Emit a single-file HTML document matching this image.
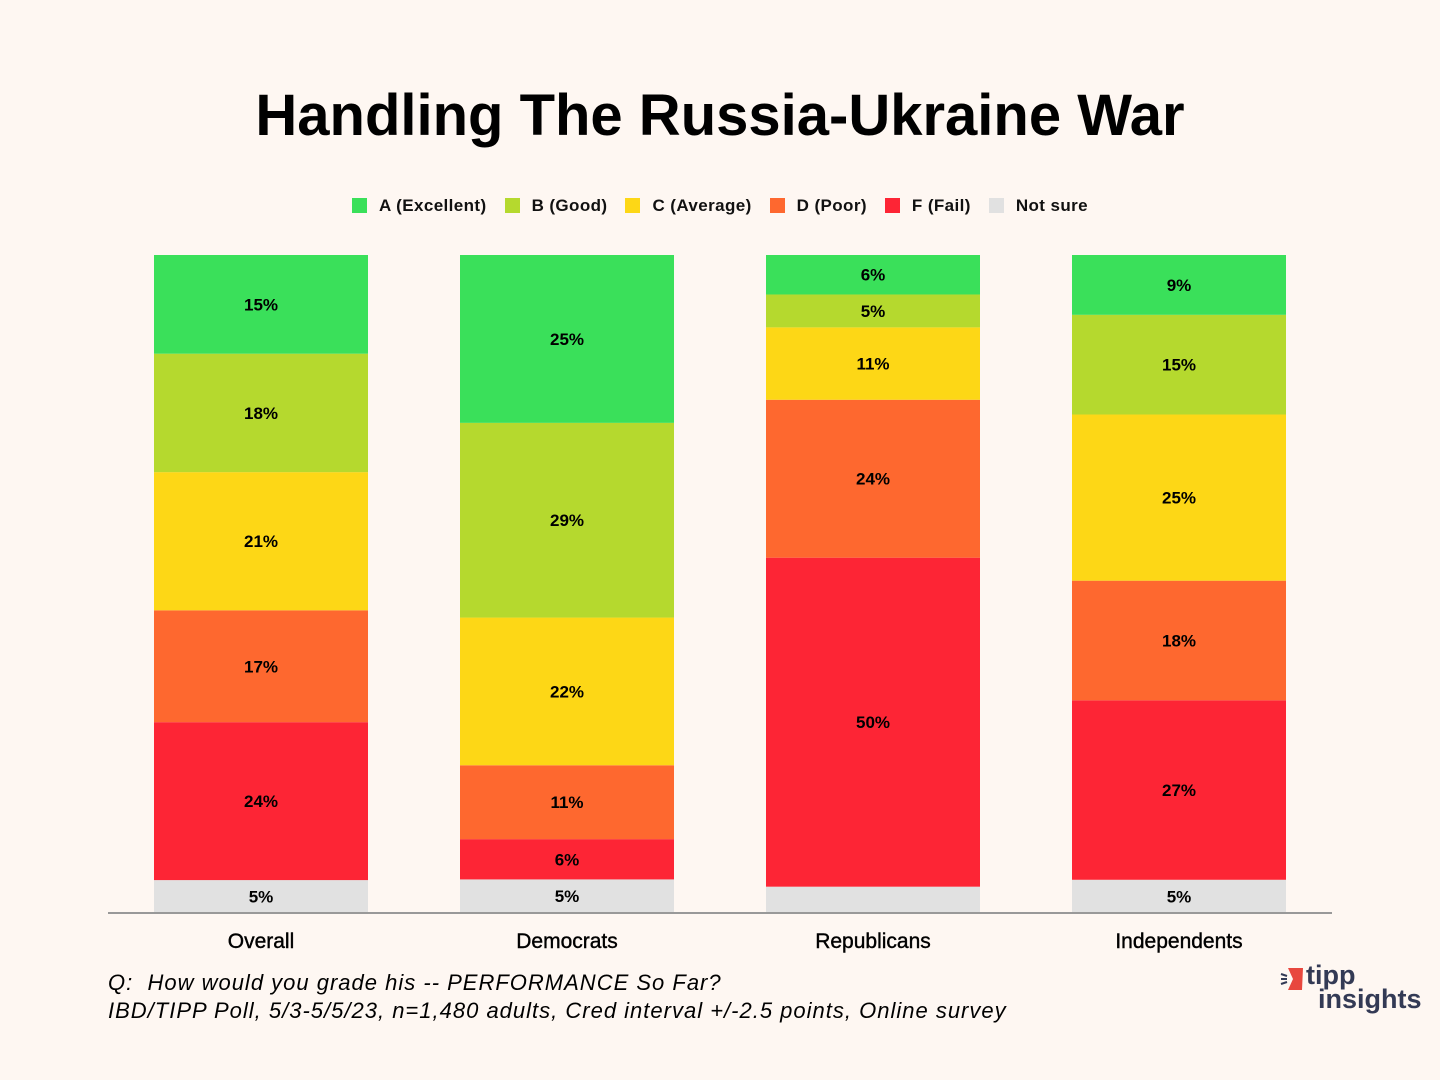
<!DOCTYPE html>
<html><head><meta charset="utf-8"><style>
body{margin:0;background:#fef7f2;font-family:"Liberation Sans",sans-serif;}
#wrap{position:relative;width:1440px;height:1080px;overflow:hidden;background:#fef7f2;}
.t{position:absolute;white-space:nowrap;}
</style></head><body>
<div id="wrap">
<div class="t" style="left:0;width:1440px;text-align:center;top:82px;font-size:58px;font-weight:bold;color:#000;">Handling The Russia-Ukraine War</div>
<div id="legend" class="t" style="left:0;width:1440px;top:196px;text-align:center;font-size:17px;font-weight:bold;color:#111;letter-spacing:0.4px;"></div>
<svg id="chart" width="1440" height="1080" style="position:absolute;left:0;top:0"></svg>
<div class="t" style="left:108px;top:970px;font-size:22px;font-style:italic;color:#000;letter-spacing:1px;">Q:&nbsp; How would you grade his -- PERFORMANCE So Far?</div>
<div class="t" style="left:108px;top:998px;font-size:22px;font-style:italic;color:#000;letter-spacing:1px;">IBD/TIPP Poll, 5/3-5/5/23, n=1,480 adults, Cred interval +/-2.5 points, Online survey</div>
<div style="position:absolute;left:1280px;top:964px;width:145px;height:52px;">
<svg width="26" height="30" style="position:absolute;left:0;top:2px"><polygon points="8,2 23,2 22,24 8,24 13,13" fill="#e8473e"/><line x1="1" y1="8" x2="7" y2="10" stroke="#333a55" stroke-width="2"/><line x1="1" y1="13" x2="7" y2="13" stroke="#333a55" stroke-width="2"/><line x1="1" y1="18" x2="7" y2="16" stroke="#333a55" stroke-width="2"/></svg>
<div class="t" style="left:26px;top:-4px;font-size:27px;font-weight:bold;color:#333a55;line-height:30px;">tipp</div>
<div class="t" style="left:38px;top:20px;font-size:27px;font-weight:bold;color:#333a55;line-height:30px;">insights</div>
</div>
</div>
<script>
const categories=["Overall","Democrats","Republicans","Independents"];
const seriesNames=["A (Excellent)","B (Good)","C (Average)","D (Poor)","F (Fail)","Not sure"];
const colors=["#3ae05a","#b5d92e","#fdd716","#fe682f","#fd2535","#e1e1e1"];
const valA=[15,25,6,9];
const valB=[18,29,5,15];
const valC=[21,22,11,25];
const valD=[17,11,24,18];
const valF=[24,6,50,27];
const valNS=[5,5,4,5];
const series=[valA,valB,valC,valD,valF,valNS];
const NS="http://www.w3.org/2000/svg";
const svg=document.getElementById('chart');
const baseY=913, topY=255, x0=154, step=306, bw=214;
function yScale(frac){return baseY-frac*(baseY-topY);}
const leg=document.getElementById('legend');
seriesNames.forEach((n,i)=>{
  const s=document.createElement('span');
  
  
  s.style.margin='0 9px';
  s.innerHTML='<span style="display:inline-block;width:15px;height:15px;background:'+colors[i]+';vertical-align:-2px;margin-right:12px"></span>'+n;
  leg.appendChild(s);
});
categories.forEach((c,ci)=>{
  let total=0; series.forEach(s=>total+=s[ci]);
  let cum=0;
  const x=x0+ci*step;
  for(let si=series.length-1;si>=0;si--){
    const v=series[si][ci];
    const y1=yScale(cum/total), y2=yScale((cum+v)/total);
    cum+=v;
    const r=document.createElementNS(NS,'rect');
    
    
    r.setAttribute('x',x);r.setAttribute('y',y2);r.setAttribute('width',bw);r.setAttribute('height',y1-y2);
    r.setAttribute('fill',colors[si]);
    svg.appendChild(r);
    if(v>=5){
      const t=document.createElementNS(NS,'text');
      
      
      t.setAttribute('x',x+bw/2);t.setAttribute('y',(y1+y2)/2+6);
      t.setAttribute('text-anchor','middle');t.setAttribute('font-size','17');t.setAttribute('font-weight','bold');
      t.setAttribute('font-family','Liberation Sans, sans-serif');
      t.textContent=v+'%';
      svg.appendChild(t);
    }
  }
  const l=document.createElementNS(NS,'text');
  
  
  l.setAttribute('x',x+bw/2);l.setAttribute('y',948);
  l.setAttribute('text-anchor','middle');l.setAttribute('font-size','21');
  l.setAttribute('stroke','#000');l.setAttribute('stroke-width','0.4');
  l.setAttribute('font-family','Liberation Sans, sans-serif');
  l.textContent=c;
  svg.appendChild(l);
});
const ax=document.createElementNS(NS,'line');


ax.setAttribute('x1',108);ax.setAttribute('x2',1332);ax.setAttribute('y1',913);ax.setAttribute('y2',913);
ax.setAttribute('stroke','#999');ax.setAttribute('stroke-width','2');
svg.appendChild(ax);
</script>
</body></html>
